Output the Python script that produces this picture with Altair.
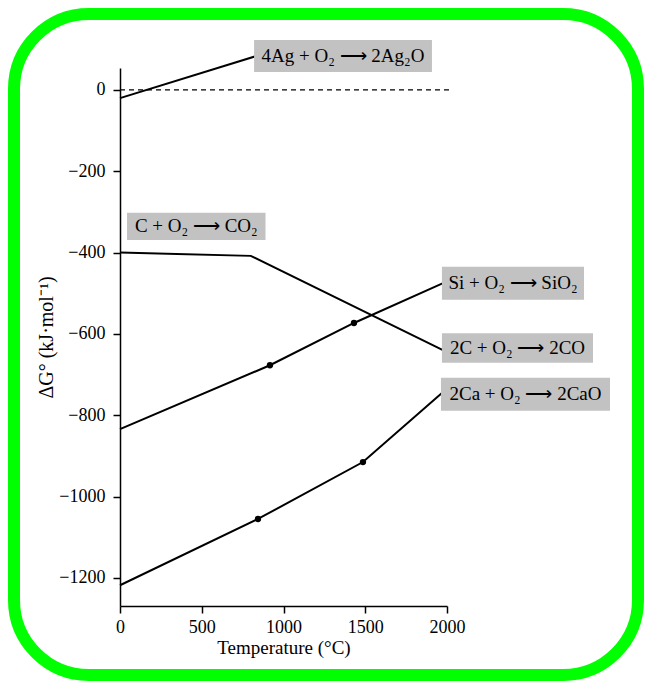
import altair as alt
import pandas as pd

# ---- data ----
ag_T = [0, 838]
ag_G = [-20, 84]
c_T = [0, 800, 1975]
c_G = [-400, -408, -640]
si_T = [0, 917, 1431, 1976]
si_G = [-834, -677, -573, -475]
ca_T = [0, 844, 1486, 1976]
ca_G = [-1218, -1055, -915, -743]
dot_T = [917, 1431, 844, 1486]
dot_G = [-677, -573, -1055, -915]
zero_T = [0, 2018]
zero_G = [0, 0]

label_text = ["4Ag + O₂ ⟶ 2Ag₂O", "C + O₂ ⟶ CO₂", "Si + O₂ ⟶ SiO₂",
              "2C + O₂ ⟶ 2CO", "2Ca + O₂ ⟶ 2CaO"]
label_T0 = [820, 43, 1969, 1969, 1963]
label_T1 = [1908, 890, 2838, 2893, 2997]
label_G0 = [123, -302, -435, -598, -708]
label_G1 = [44, -369, -516, -671, -789]

x_ticks = [0, 500, 1000, 1500, 2000]
y_ticks = [0, -200, -400, -600, -800, -1000, -1200]

FONT = "Liberation Serif"

rows = []
for name, T, G in [("Ag", ag_T, ag_G), ("C", c_T, c_G), ("Si", si_T, si_G), ("Ca", ca_T, ca_G)]:
    for t, g in zip(T, G):
        rows.append({"series": name, "T": t, "G": g})
lines_df = pd.DataFrame(rows)
dots_df = pd.DataFrame({"T": dot_T, "G": dot_G})
zero_df = pd.DataFrame({"T": zero_T, "G": zero_G})
labels_df = pd.DataFrame({"text": label_text, "T0": label_T0, "T1": label_T1,
                          "G0": label_G0, "G1": label_G1})
labels_df["Tm"] = (labels_df["T0"] + labels_df["T1"]) / 2
labels_df["Gm"] = (labels_df["G0"] + labels_df["G1"]) / 2

xscale = alt.Scale(domain=[0, 2000], nice=False, zero=False)
yscale = alt.Scale(domain=[-1269, 54], nice=False, zero=False)

minus_expr = "datum.value < 0 ? '\u2212' + format(-datum.value, 'd') : format(datum.value, 'd')"

x_enc = alt.X("T:Q", scale=xscale,
              axis=alt.Axis(values=x_ticks, format="d", title="Temperature (°C)",
                            labelPadding=5, titlePadding=2, grid=False,
                            labelFlush=False, titleFontSize=19))
y_enc = alt.Y("G:Q", scale=yscale,
              axis=alt.Axis(values=y_ticks, labelExpr=minus_expr, title="ΔG° (kJ·mol⁻¹)",
                            labelPadding=8, titlePadding=2, grid=False,
                            labelFlush=False, titleFontSize=20))

frame = alt.Chart(pd.DataFrame({"a": [0]})).mark_rect(
    filled=False, stroke="#00ff00", strokeWidth=12, cornerRadius=75
).encode(x=alt.value(-106), x2=alt.value(518), y=alt.value(-54), y2=alt.value(607))

zero_line = alt.Chart(zero_df).mark_line(
    color="black", strokeWidth=1.3, strokeDash=[5, 4]
).encode(x=x_enc, y=y_enc)

lines = alt.Chart(lines_df).mark_line(color="black", strokeWidth=2).encode(
    x=x_enc, y=y_enc, detail="series:N")

dots = alt.Chart(dots_df).mark_circle(color="black", size=40, opacity=1).encode(
    x=x_enc, y=y_enc)

boxes = alt.Chart(labels_df).mark_rect(fill="#c2c2c2").encode(
    x=alt.X("T0:Q", scale=xscale), x2="T1:Q",
    y=alt.Y("G0:Q", scale=yscale), y2="G1:Q")

texts = alt.Chart(labels_df).mark_text(
    font=FONT, fontSize=19, color="black", align="center", baseline="middle"
).encode(x=alt.X("Tm:Q", scale=xscale), y=alt.Y("Gm:Q", scale=yscale), text="text:N")

chart = alt.layer(frame, zero_line, lines, dots, boxes, texts).properties(
    width=327, height=538,
    padding={"left": 112, "top": 60, "right": 197, "bottom": 75},
    autosize=alt.AutoSizeParams(type="none"),
).configure(background="white").configure_view(stroke=None).configure_axis(
    grid=False, domainColor="black", domainWidth=1.5, tickColor="black",
    tickWidth=1.5, tickSize=7, labelFont=FONT, labelFontSize=18,
    labelColor="black", titleFont=FONT, titleColor="black",
    titleFontWeight="normal",
)

chart.save("out.html", embed_options={"renderer": "svg", "actions": False})
